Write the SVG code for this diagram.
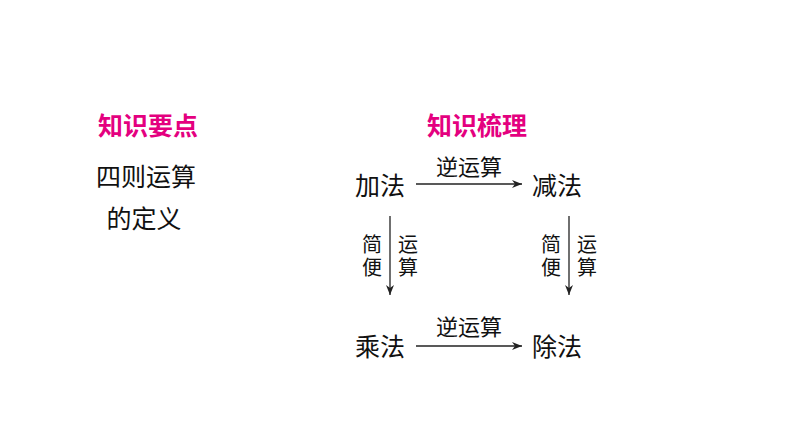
<svg xmlns="http://www.w3.org/2000/svg" width="794" height="447" viewBox="0 0 794 447">
<style>
.t{font-family:"Noto Sans CJK SC","Noto Sans CJK JP",sans-serif;fill:#111;text-anchor:middle}
.h{font-size:25px;font-weight:bold;fill:#e4007f}
.n{font-size:25px}
.l{font-size:22px}
.v{font-size:20px;writing-mode:vertical-rl;text-anchor:start;letter-spacing:3px}
.c{stroke:#222;stroke-width:1.3;fill:none}
</style>
<defs>
<marker id="ah" markerWidth="12" markerHeight="10" refX="10" refY="5" orient="auto" markerUnits="userSpaceOnUse">
<path d="M0,1 L10,5 L0,9 L3,5 Z" fill="#222"/>
</marker>
</defs>
<rect width="794" height="447" fill="#fff"/>
<g id="title-left"><text class="t h" x="148" y="135">知识要点</text></g>
<g id="title-right"><text class="t h" x="477" y="135">知识梳理</text></g>
<g id="def"><text class="t n" x="146" y="186">四则运算</text><text class="t n" x="144" y="228">的定义</text></g>
<g id="add"><text class="t n" x="380" y="195">加法</text></g>
<g id="sub"><text class="t n" x="557" y="195">减法</text></g>
<g id="mul"><text class="t n" x="380" y="356">乘法</text></g>
<g id="div"><text class="t n" x="557" y="356">除法</text></g>
<g id="connectors">
<line class="c" x1="416" y1="184" x2="522" y2="184" marker-end="url(#ah)"/>
<line class="c" x1="416" y1="346" x2="522" y2="346" marker-end="url(#ah)"/>
<line class="c" x1="390" y1="216" x2="390" y2="295" marker-end="url(#ah)"/>
<line class="c" x1="569" y1="216" x2="569" y2="295" marker-end="url(#ah)"/>
<text class="t l" x="469" y="175">逆运算</text>
<text class="t l" x="469" y="335">逆运算</text>
<text class="t v" x="372" y="234">简便</text>
<text class="t v" x="408" y="234">运算</text>
<text class="t v" x="551" y="234">简便</text>
<text class="t v" x="587" y="234">运算</text>
</g>
</svg>
